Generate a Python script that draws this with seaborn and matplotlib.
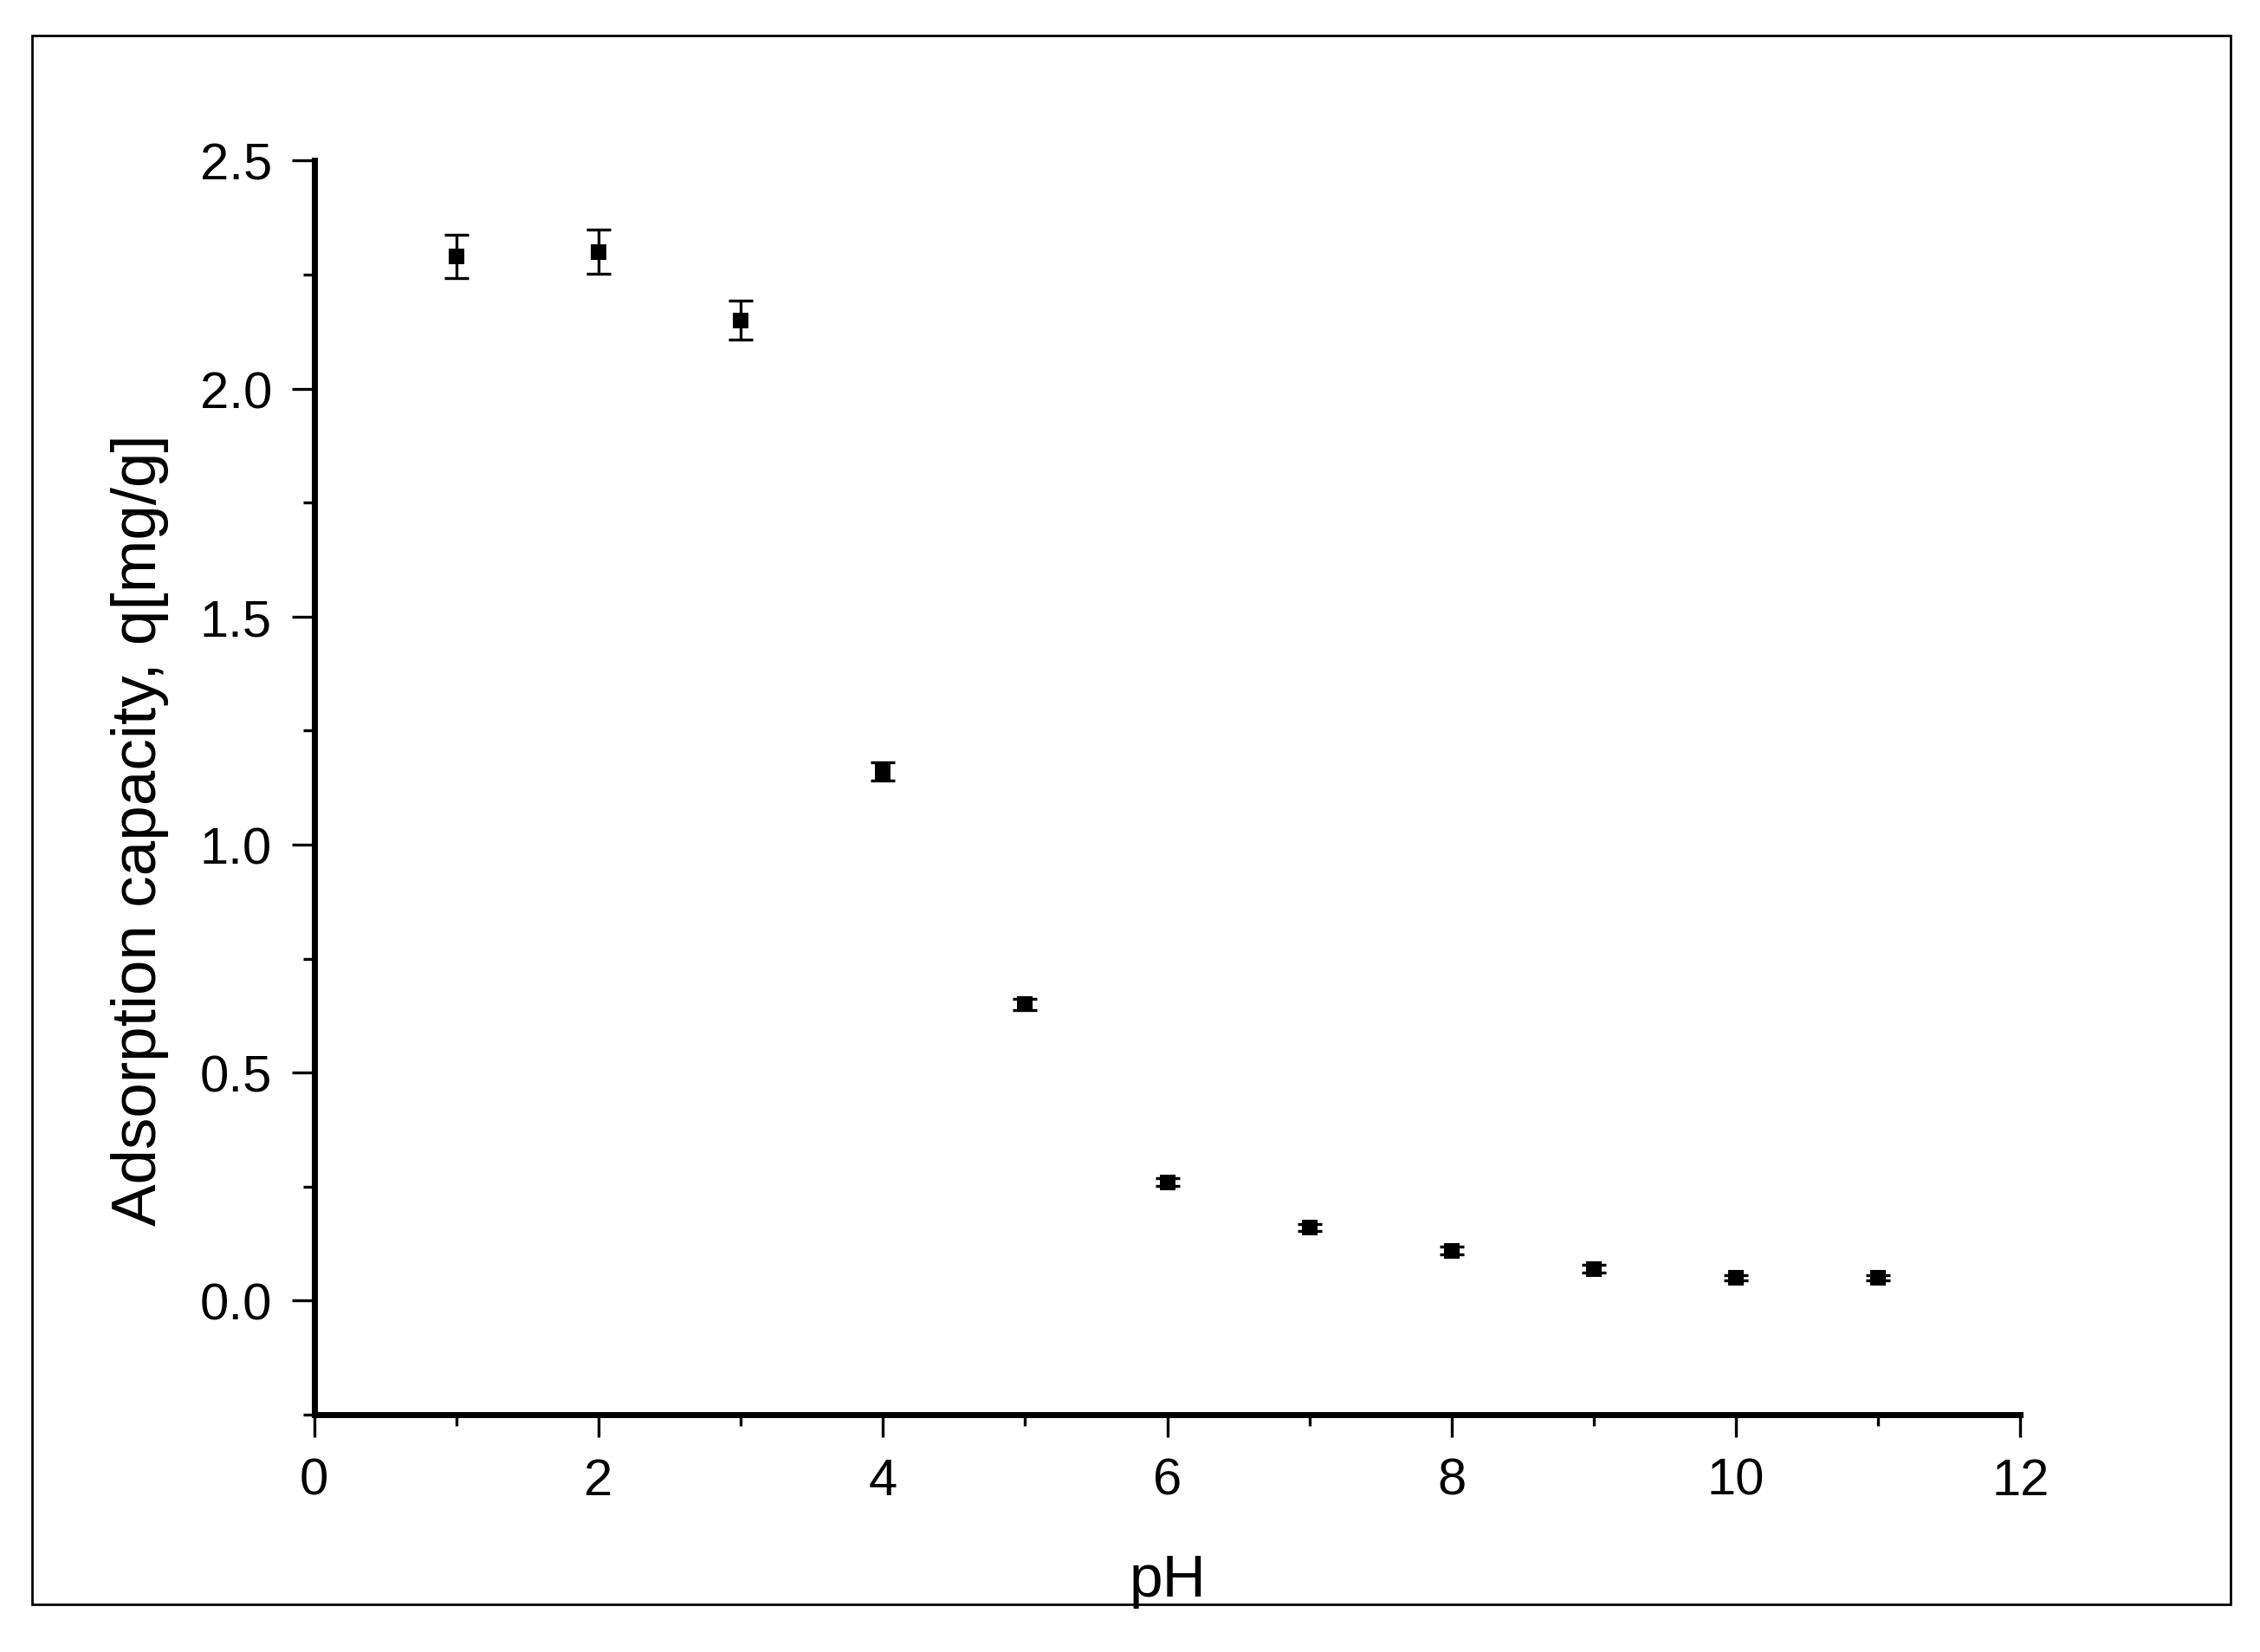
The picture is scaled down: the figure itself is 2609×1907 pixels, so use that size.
import numpy as np
import pandas as pd
import seaborn as sns
import matplotlib.pyplot as plt
from matplotlib.patches import Rectangle
from matplotlib.ticker import MultipleLocator, FormatStrFormatter

# %%
ph = [1, 2, 3, 4, 5, 6, 7, 8, 9, 10, 11]
capacity = [2.29, 2.30, 2.15, 1.16, 0.65, 0.26, 0.16, 0.11, 0.07, 0.05, 0.05]
capacity_err = [0.048, 0.048, 0.043, 0.02, 0.012, 0.008, 0.008, 0.008, 0.008, 0.006, 0.006]

df = pd.DataFrame({"pH": ph, "q": capacity, "err": capacity_err})

# %%
sns.set_style("ticks")
plt.rcParams["font.family"] = ["Liberation Sans", "DejaVu Sans"]
plt.rcParams["text.color"] = "black"
plt.rcParams["axes.labelcolor"] = "black"

fig = plt.figure(figsize=(26.09, 19.08), dpi=100)
ax = fig.add_axes([0.139, 0.1436, 0.755, 0.7587])

ax.errorbar(
    df.pH, df.q, yerr=df.err,
    fmt="none", ecolor="black", elinewidth=2.4, capsize=10, capthick=2.4, zorder=2,
)
sns.scatterplot(
    data=df, x="pH", y="q", ax=ax,
    marker="s", s=150, color="black", linewidth=0, zorder=3,
)

ax.set_xlim(0, 12)
ax.set_ylim(-0.25, 2.5)
ax.xaxis.set_major_locator(MultipleLocator(2))
ax.xaxis.set_minor_locator(MultipleLocator(1))
ax.yaxis.set_major_locator(MultipleLocator(0.5))
ax.yaxis.set_minor_locator(MultipleLocator(0.25))
ax.yaxis.set_major_formatter(FormatStrFormatter("%.1f"))

sns.despine(ax=ax)
for side in ["left", "bottom"]:
    ax.spines[side].set_linewidth(5)
    ax.spines[side].set_color("black")

ax.tick_params(which="major", direction="out", length=19, width=2.4, labelsize=43, pad=16, colors="black")
ax.tick_params(which="minor", direction="out", length=9.5, width=2.4, colors="black")

ax.set_xlabel("pH", fontsize=50, labelpad=40)
ax.set_ylabel("Adsorption capacity, q[mg/g]", fontsize=52.5)
ax.yaxis.set_label_coords(-0.085, 0.4667)

fig.patches.append(
    Rectangle((0.014, 0.029), 0.973, 0.949, transform=fig.transFigure,
              fill=False, edgecolor="black", linewidth=2)
)

# %%
fig.savefig("out.png", dpi=100, facecolor="white")
